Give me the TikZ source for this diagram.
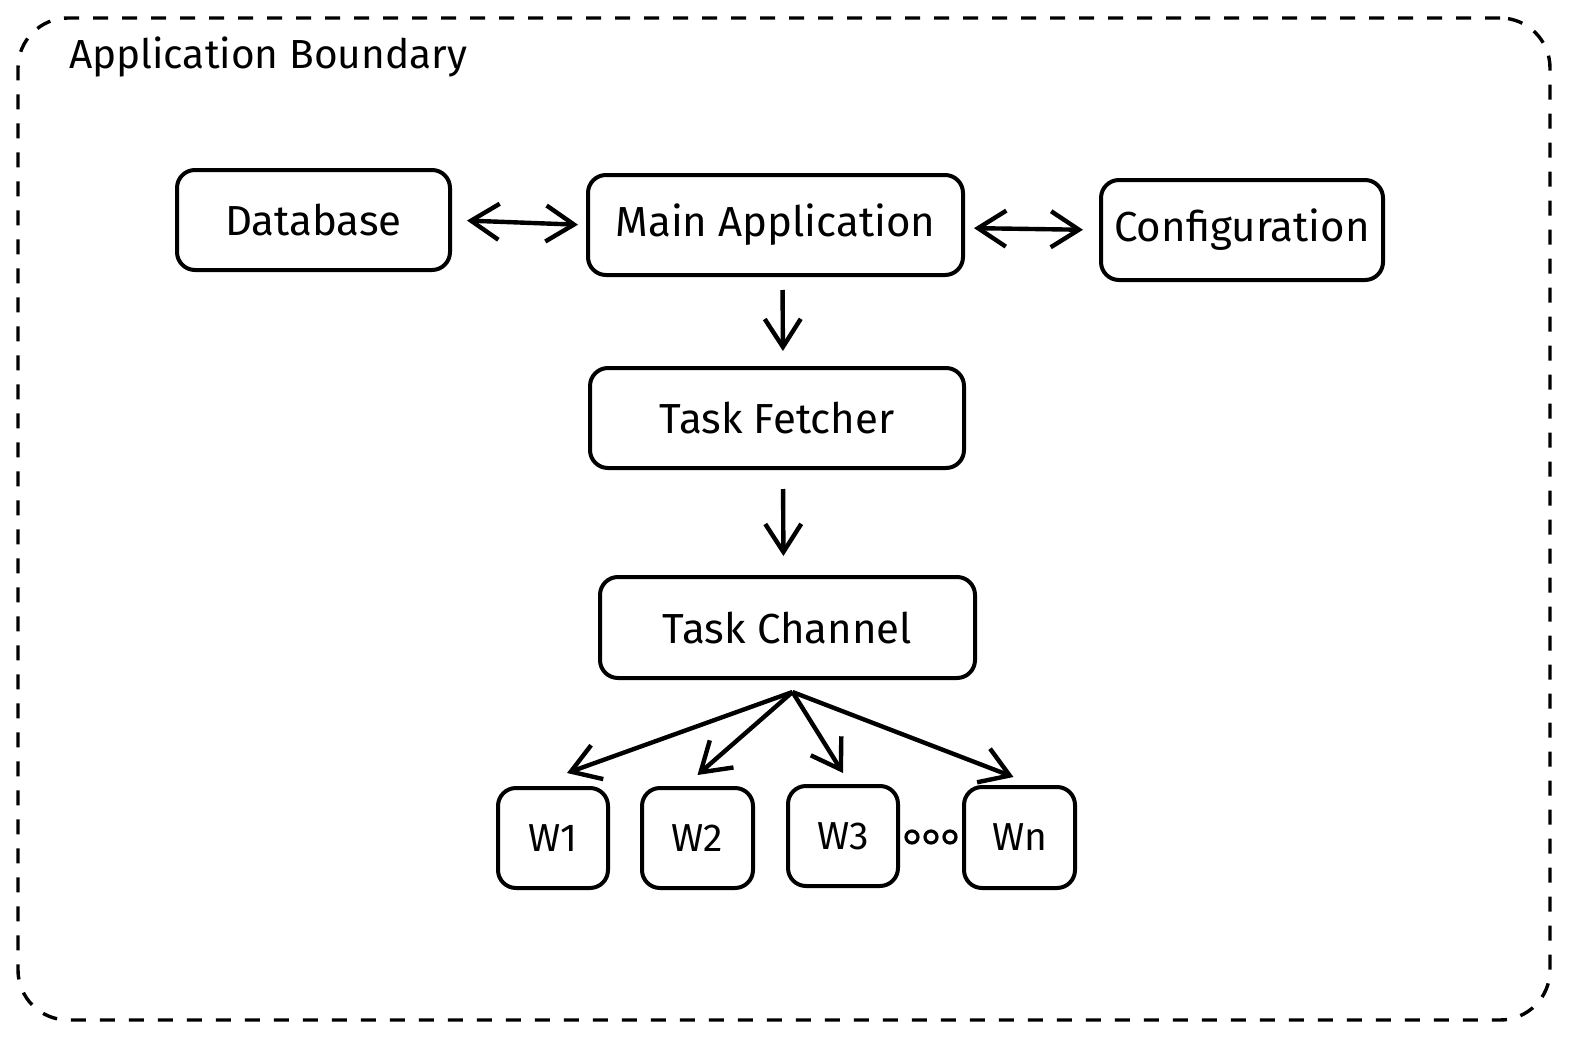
\documentclass[tikz,border=0pt]{standalone}
\usepackage{fontspec}
\setmainfont{Fira Sans}
\usetikzlibrary{arrows.meta}
\begin{document}
\begin{tikzpicture}[x=0.5pt,y=-0.5pt,
  box/.style={draw, line width=2pt, rounded corners=9pt, inner sep=0pt, font=\fontsize{21}{24}\selectfont},
  wbox/.style={box, font=\fontsize{19.5}{22}\selectfont},
  conn/.style={line width=2.2pt, -{Straight Barb[length=14pt,width=18pt,line width=2.2pt]}},
  biconn/.style={line width=2.2pt, {Straight Barb[length=14pt,width=18pt,line width=2.2pt]}-{Straight Barb[length=14pt,width=18pt,line width=2.2pt]}},
  bound/.style={draw, line width=1.7pt, rounded corners=25pt, dash pattern=on 7.5pt off 7pt},
  dotc/.style={draw, line width=1.6pt, circle, minimum size=6pt, inner sep=0pt}
]
\useasboundingbox (0,0) rectangle (1595,1054);
\fill[white] (0,0) rectangle (1595,1054);
% boundary
\node[bound, minimum width=766pt, minimum height=501pt] (boundary) at (784,519) {};
\node[anchor=west, font=\fontsize{20.3}{24}\selectfont] (title) at (62,57) {Application Boundary};
% boxes
\node[box, minimum width=136.5pt, minimum height=50pt] (db) at (313.5,220) {Database};
\node[box, minimum width=187.5pt, minimum height=50pt] (main) at (775.5,225) {Main Application};
\node[box, minimum width=141pt, minimum height=50pt] (conf) at (1242,230) {Configuration};
\node[box, minimum width=187pt, minimum height=50pt] (fetch) at (777,418) {Task Fetcher};
\node[box, minimum width=187.5pt, minimum height=50.5pt] (chan) at (787.5,627.5) {Task Channel};
\node[wbox, minimum width=55pt, minimum height=50pt] (w1) at (553,838) {W1};
\node[wbox, minimum width=55.5pt, minimum height=50pt] (w2) at (697.5,838) {W2};
\node[wbox, minimum width=55pt, minimum height=50pt] (w3) at (843,836) {W3};
\node[wbox, minimum width=55.5pt, minimum height=50.5pt] (wn) at (1019.5,837.5) {Wn};
% dots
\node[dotc] (d1) at (912,837) {};
\node[dotc] (d2) at (931,837) {};
\node[dotc] (d3) at (950,837) {};
% connectors
\draw[biconn, shorten <=7.5pt, shorten >=4pt] (db.east) -- (main.west);
\draw[biconn, shorten <=4.5pt, shorten >=8pt] ([yshift=-1.5pt]main.east) -- (conf.west);
\draw[conn, shorten <=6.5pt, shorten >=7.5pt] ([xshift=3.5pt]main.south) -- ([xshift=3pt]fetch.north);
\draw[conn, shorten <=9.5pt, shorten >=9.5pt] ([xshift=3pt]fetch.south) -- ([xshift=-2pt]chan.north);
\coordinate (fan) at ([xshift=2.5pt,yshift=-6pt]chan.south);
\draw[conn] (fan) -- ([xshift=7pt,yshift=6.5pt]w1.north);
\draw[conn] (fan) -- ([yshift=5.5pt]w2.north);
\draw[conn] (fan) -- ([yshift=5.5pt]w3.north);
\draw[conn] (fan) -- ([xshift=-3pt,yshift=4pt]wn.north);
\end{tikzpicture}
\end{document}
